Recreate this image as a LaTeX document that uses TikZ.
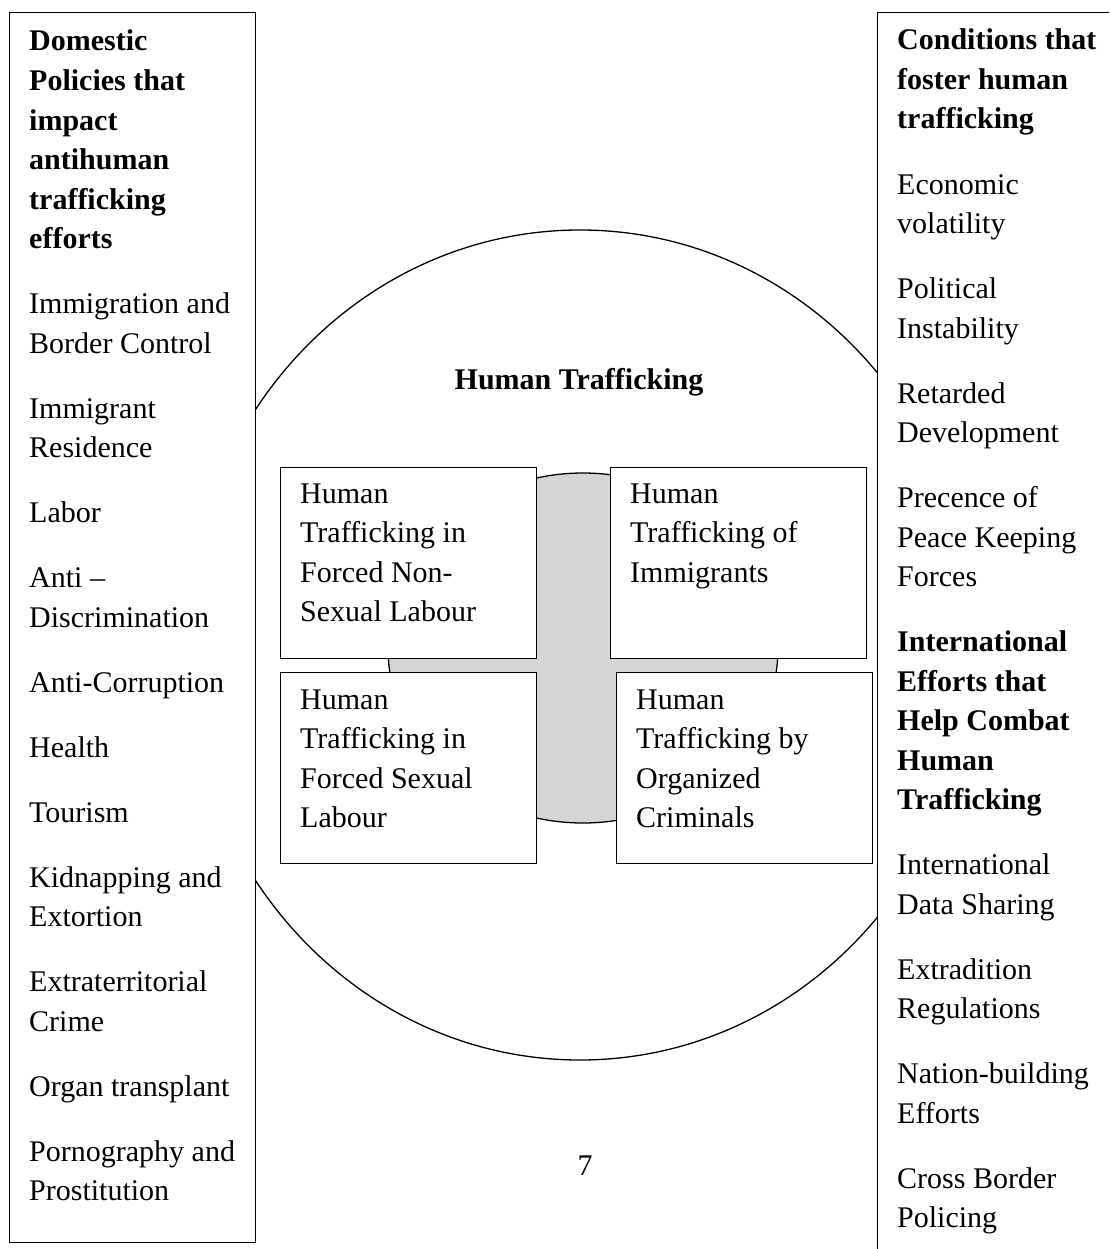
\documentclass[tikz,border=0pt]{standalone}
\usepackage{fontspec}
\setmainfont{Liberation Serif}
\usetikzlibrary{shapes.geometric}
\newcommand{\itemfont}{\fontsize{30}{39.5}\selectfont}
\tikzset{
  panel/.style = {draw, line width = 1.3pt, fill = white, inner sep = 0pt},
  cell/.style = {panel, anchor = north west, minimum width = 256pt, minimum height = 191pt},
  item/.style = {anchor = base west, inner sep = 0pt, align = left, font = \itemfont},
  head/.style = {item, font = \itemfont\bfseries}
}

\begin{document}
\begin{tikzpicture}[x = 1pt, y = -1pt]
  \useasboundingbox (0,0) rectangle (1109,1249);
  \clip (0,0) rectangle (1109,1249);
  % circles
  \node [draw, ellipse, line width = 1.3pt, inner sep = 0pt, minimum width = 788pt, minimum height = 830pt] (ht) at (580,645) {};
  \node [panel, anchor = north west, minimum width = 246pt, minimum height = 1230pt] (policy) at (9,12) {};
  \node [panel, anchor = north west, minimum width = 260pt, minimum height = 1260pt] (cond) at (877,12) {};
  \node [draw, ellipse, line width = 1.3pt, fill = black!16, inner sep = 0pt, minimum width = 390pt, minimum height = 350pt] (core) at (583,648) {};
  % boxes
  \node [cell] (tl) at (280,467) {};
  \node [cell] (tr) at (610,467) {};
  \node [cell] (bl) at (280,672) {};
  \node [cell] (br) at (616,672) {};
  % texts in the circle (placed at the baseline of the last line)
  \node [head, anchor = base] (title) at (579,389) {Human Trafficking};
  \node [item] (tltext) at (300,621.5) {Human\\Trafficking in\\Forced Non-\\Sexual Labour};
  \node [item] (trtext) at (630,582) {Human\\Trafficking of\\Immigrants};
  \node [item] (bltext) at (300,827.5) {Human\\Trafficking in\\Forced Sexual\\Labour};
  \node [item] (brtext) at (636,827.5) {Human\\Trafficking by\\Organized\\Criminals};
  \node [item, anchor = base] (page) at (585,1175) {7};
  % left column
  \node [head] (p0) at (29,248.5) {Domestic\\Policies that\\impact\\antihuman\\trafficking\\efforts};
  \node [item] (p1) at (29,353) {Immigration and\\Border Control};
  \node [item] (p2) at (29,457.5) {Immigrant\\Residence};
  \node [item] (p3) at (29,522.5) {Labor};
  \node [item] (p4) at (29,627) {Anti --\\Discrimination};
  \node [item] (p5) at (29,692) {Anti-Corruption};
  \node [item] (p6) at (29,757) {Health};
  \node [item] (p7) at (29,822) {Tourism};
  \node [item] (p8) at (29,926.5) {Kidnapping and\\Extortion};
  \node [item] (p9) at (29,1031) {Extraterritorial\\Crime};
  \node [item] (p10) at (29,1096) {Organ transplant};
  \node [item] (p11) at (29,1200.5) {Pornography and\\Prostitution};
  % right column
  \node [head] (c0) at (897,129) {Conditions that\\foster human\\trafficking};
  \node [item] (c1) at (897,233.5) {Economic\\volatility};
  \node [item] (c2) at (897,338) {Political\\Instability};
  \node [item] (c3) at (897,442.5) {Retarded\\Development};
  \node [item] (c4) at (897,586.5) {Precence of\\Peace Keeping\\Forces};
  \node [head] (c5) at (897,809.5) {International\\Efforts that\\Help Combat\\Human\\Trafficking};
  \node [item] (c6) at (897,914) {International\\Data Sharing};
  \node [item] (c7) at (897,1018.5) {Extradition\\Regulations};
  \node [item] (c8) at (897,1123) {Nation-building\\Efforts};
  \node [item] (c9) at (897,1227.5) {Cross Border\\Policing};
\end{tikzpicture}
\end{document}
